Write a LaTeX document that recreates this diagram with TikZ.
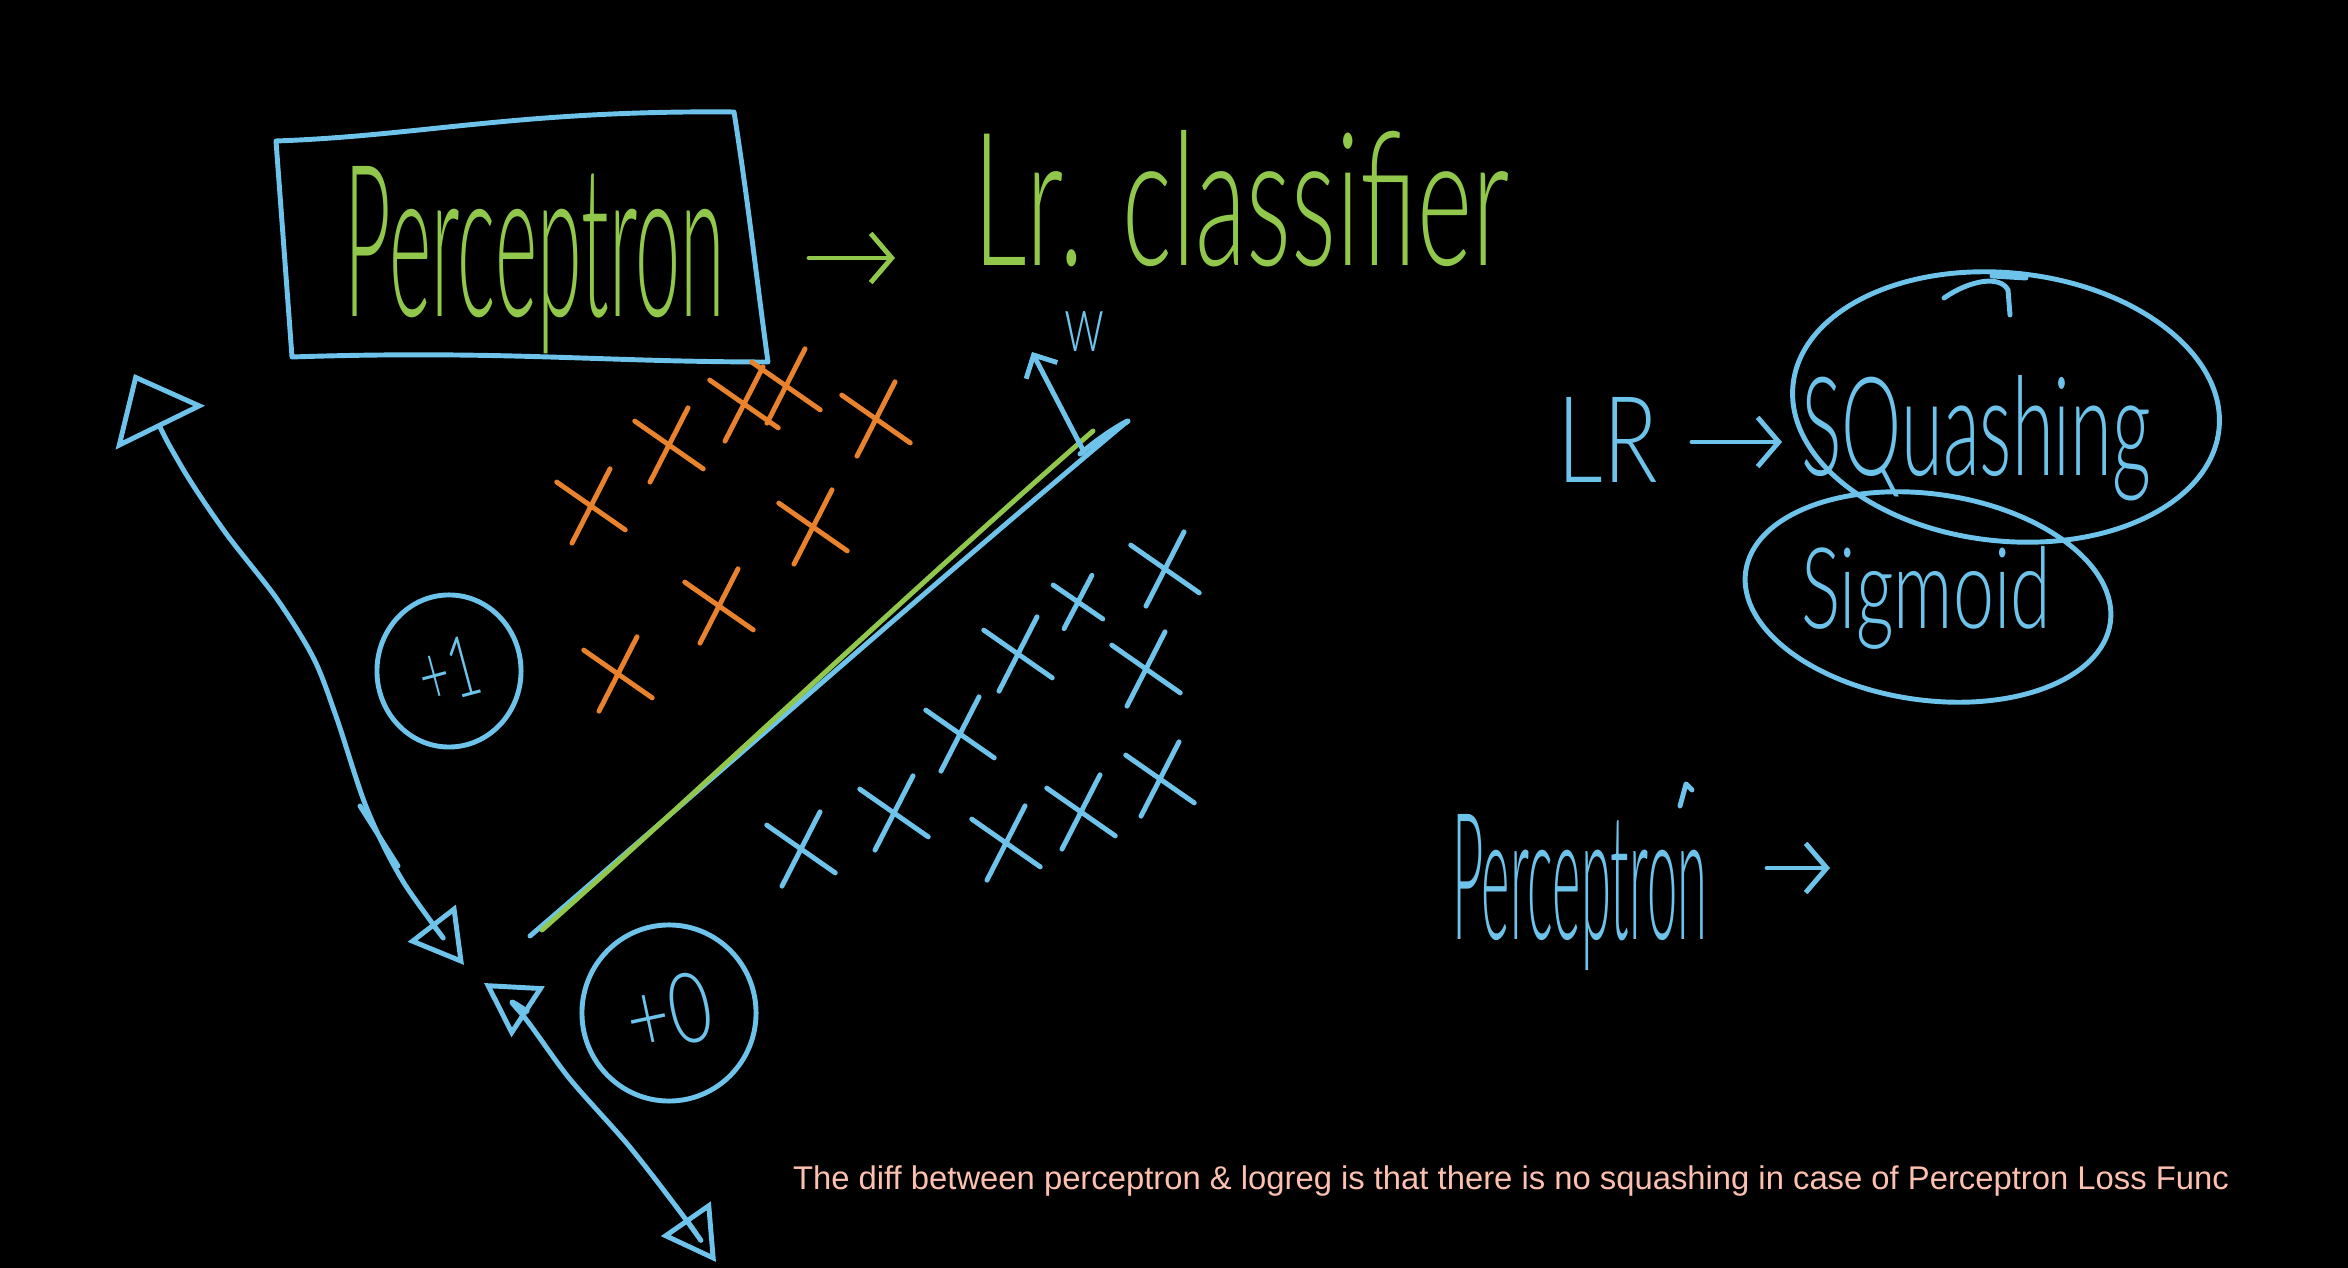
\documentclass[tikz,border=0pt]{standalone}
\usepackage{fontspec}
\setmainfont{Liberation Sans}
\newfontfamily\handfont{Lato Light}
\usetikzlibrary{arrows.meta,shapes.misc,shapes.geometric}
\definecolor{pblue}{RGB}{110,195,235}
\definecolor{pgreen}{RGB}{145,200,75}
\definecolor{porange}{RGB}{232,130,45}
\definecolor{ppink}{RGB}{252,192,176}
\tikzset{
  tritip/.tip={Triangle[open, length=15pt, width=17pt]},
  bigtritip/.tip={Triangle[open, length=17pt, width=28pt]},
  barb/.tip={Straight Barb[length=6pt, width=14pt]},
  smallbarb/.tip={Straight Barb[length=5pt, width=10pt]}}
\begin{document}
\begin{tikzpicture}[x=0.01cm,y=-0.01cm,
  pen/.style={line width=1.4pt, line cap=round, line join=round},
  bluepen/.style={pen, draw=pblue},
  greenpen/.style={pen, draw=pgreen},
  hand/.style={inner sep=0pt, outer sep=0pt, font=\handfont},
  xmark/.style={cross out, draw, line width=1.4pt, line cap=round, minimum width=0.5cm, minimum height=0.58cm, inner sep=0pt, rotate=14}]
\fill[black] (0,0) rectangle (2348,1268);
\useasboundingbox (0,0) rectangle (2348,1268);

% ---------- top-left box ----------
\coordinate (b1) at (276,141);
\coordinate (b2) at (734,112);
\coordinate (b3) at (768,362);
\coordinate (b4) at (292,357);
\draw[bluepen] (b1) .. controls (420,136) and (520,110) .. (b2)
  .. controls (748,200) and (758,290) .. (b3)
  .. controls (600,362) and (500,350) .. (b4) -- cycle;
\node[hand, text=pgreen, anchor=base] (ptext) at (535,317) {\resizebox{3.8cm}{1.5cm}{Perceptron}};

\coordinate (ga1) at (809,258);
\coordinate (ga2) at (895,258);
\draw[greenpen, -{barb}] (ga1) -- (ga2);
\node[hand, text=pgreen, anchor=base west] (lrc) at (973,266) {\resizebox{5.36cm}{1.35cm}{Lr. classifier}};

% ---------- orange crosses ----------
\node[xmark, porange] (o1) at (744,404) {};
\node[xmark, porange] (o2) at (786,386) {};
\node[xmark, porange] (o3) at (876,419) {};
\node[xmark, porange] (o4) at (669,445) {};
\node[xmark, porange] (o5) at (591,506) {};
\node[xmark, porange] (o6) at (813,527) {};
\node[xmark, porange] (o7) at (719,606) {};
\node[xmark, porange] (o8) at (618,674) {};

% ---------- blue crosses ----------
\node[xmark, pblue] (x1) at (801,849) {};
\node[xmark, pblue] (x2) at (894,813) {};
\node[xmark, pblue] (x3) at (960,734) {};
\node[xmark, pblue] (x4) at (1018,654) {};
\node[xmark, pblue, minimum width=0.35cm, minimum height=0.4cm] (x5) at (1078,602) {};
\node[xmark, pblue] (x6) at (1165,569) {};
\node[xmark, pblue] (x7) at (1146,669) {};
\node[xmark, pblue] (x8) at (1006,843) {};
\node[xmark, pblue] (x9) at (1081,812) {};
\node[xmark, pblue] (x10) at (1160,779) {};

% ---------- separating line ----------
\coordinate (ls) at (530,936);
\coordinate (le) at (1124,424);
\draw[bluepen] (ls) .. controls (700,790) and (900,612) .. (le)
  .. controls (1140,414) and (1110,428) .. (1080,454);
\coordinate (gs) at (542,930);
\coordinate (ge) at (1093,431);
\draw[greenpen] (gs) .. controls (700,790) and (900,600) .. (ge);

% w arrow
\coordinate (ws) at (1084,452);
\coordinate (we) at (1032,352);
\draw[bluepen, -{smallbarb}] (ws) -- (we);
\node[hand, text=pblue] (wlab) at (1085,332) {\resizebox{0.4cm}{0.4cm}{w}};

% ---------- left arrows ----------
\coordinate (c1s) at (134,374);
\coordinate (c1e) at (464,965);
\draw[bluepen, {bigtritip}-{tritip}] plot[smooth] coordinates {(c1s) (180,464) (225,532) (277,599) (314,659) (337,719) (367,809) (404,883) (c1e)};
\draw[bluepen] (360,806) -- (398,866);
\coordinate (c2s) at (484,983);
\coordinate (c2e) at (716,1262);
\draw[bluepen, {tritip}-{tritip}] plot[smooth] coordinates {(c2s) (520,1012) (569,1078) (629,1146) (681,1213) (c2e)};

% circles
\node[bluepen, draw, ellipse, minimum width=1.44cm, minimum height=1.52cm] (plus1) at (449,671) {};
\node[hand, text=pblue, rotate=15] (plus1t) at (plus1.center) {\resizebox{0.6cm}{0.6cm}{+1}};
\node[bluepen, draw, ellipse, minimum width=1.74cm, minimum height=1.76cm] (plus0) at (669,1013) {};
\node[hand, text=pblue, rotate=12] (plus0t) at (plus0.center) {\resizebox{0.85cm}{0.7cm}{+0}};

% ---------- right: LR -> squashing ----------
\node[hand, text=pblue] (lr) at (1608,440) {\resizebox{1.0cm}{0.85cm}{LR}};
\coordinate (la1) at (1692,442);
\coordinate (la2) at (1782,442);
\draw[bluepen, -{barb}] (la1) -- (la2);
\node[bluepen, draw, ellipse, minimum width=4.28cm, minimum height=2.68cm, rotate=-6] (sqe) at (2006,407) {};
\node[bluepen, draw, ellipse, minimum width=3.68cm, minimum height=2.06cm, rotate=-8] (sge) at (1928,597) {};
\node[hand, text=pblue, anchor=base west] (sqt) at (1801,476) {\resizebox{3.5cm}{1.0cm}{SQuashing}};
\node[hand, text=pblue, anchor=base west] (sgt) at (1801,629) {\resizebox{2.5cm}{0.82cm}{Sigmoid}};
\coordinate (h1) at (1944,298);
\coordinate (h2) at (2010,315);
\draw[bluepen] (h1) .. controls (1970,280) and (2000,275) .. (2008,290) -- (h2);
\draw[bluepen] (1992,276) -- (2026,278);

% ---------- bottom right ----------
\node[hand, text=pblue, anchor=base west] (pt2) at (1452,940) {\resizebox{2.55cm}{1.25cm}{Perceptron}};
\draw[bluepen] (1680,806) -- (1686,784) -- (1692,790);
\coordinate (pa1) at (1767,868);
\coordinate (pa2) at (1830,868);
\draw[bluepen, -{barb}] (pa1) -- (pa2);

% caption
\node[inner sep=0pt, text=ppink] (cap) at (1511,1181) {\resizebox{14.35cm}{!}{The diff between perceptron \& logreg is that there is no squashing in case of Perceptron Loss Func}};
\end{tikzpicture}
\end{document}
